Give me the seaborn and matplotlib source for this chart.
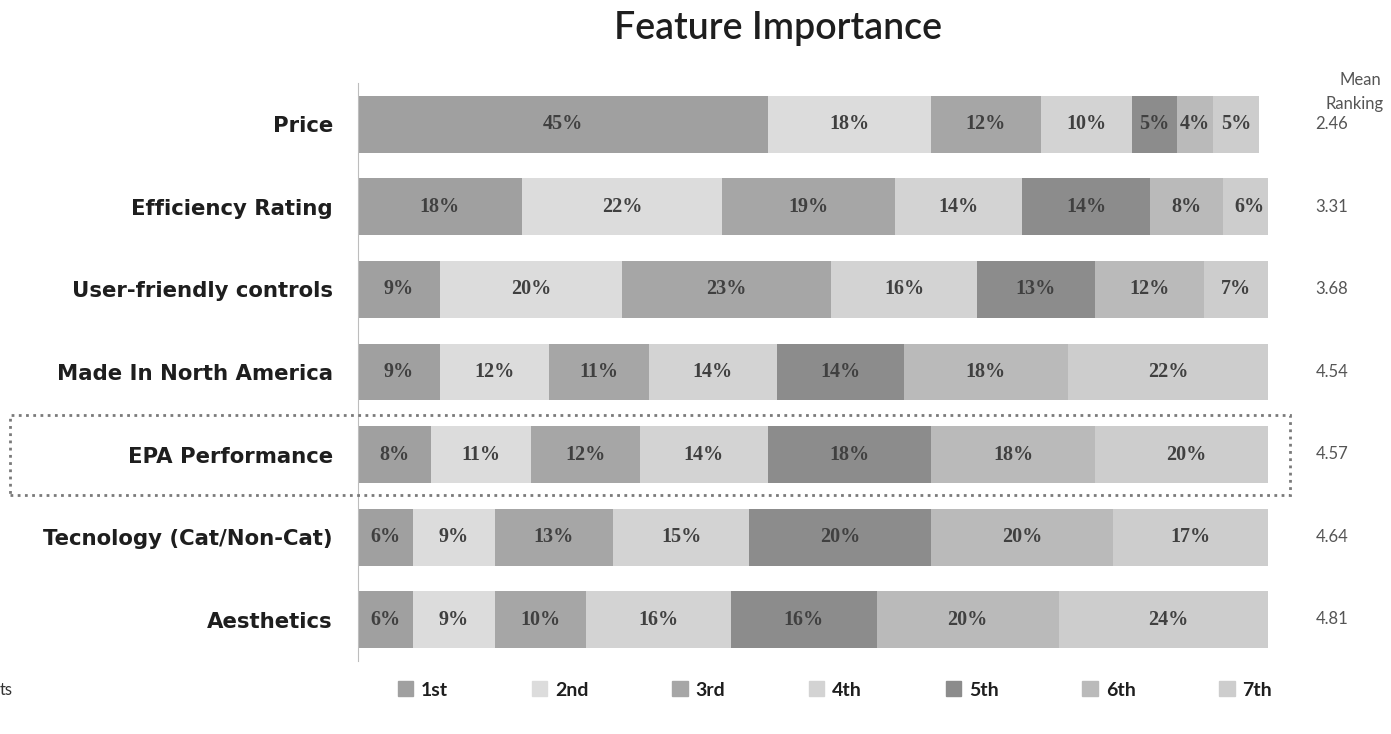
import numpy as np
import pandas as pd
import seaborn as sns
import matplotlib.pyplot as plt
from matplotlib.patches import Patch, Rectangle

features = ["Price", "Efficiency Rating", "User-friendly controls",
            "Made In North America", "EPA Performance",
            "Tecnology (Cat/Non-Cat)", "Aesthetics"]
ranks = ["1st", "2nd", "3rd", "4th", "5th", "6th", "7th"]

# share of respondents (%) placing each feature at each rank
rank_1st = [45, 18, 9, 9, 8, 6, 6]
rank_2nd = [18, 22, 20, 12, 11, 9, 9]
rank_3rd = [12, 19, 23, 11, 12, 13, 10]
rank_4th = [10, 14, 16, 14, 14, 15, 16]
rank_5th = [5, 14, 13, 14, 18, 20, 16]
rank_6th = [4, 8, 12, 18, 18, 20, 20]
rank_7th = [5, 6, 7, 22, 20, 17, 24]
mean_ranking = [2.46, 3.31, 3.68, 4.54, 4.57, 4.64, 4.81]

rank_colors = ["#a0a0a0", "#dcdcdc", "#a6a6a6", "#d3d3d3",
               "#8c8c8c", "#bababa", "#cdcdcd"]

shares = np.array([rank_1st, rank_2nd, rank_3rd, rank_4th,
                   rank_5th, rank_6th, rank_7th], dtype=float)
cum = np.cumsum(shares, axis=0)

sns.set_theme(style="white")
plt.rcParams["font.family"] = ["Lato", "DejaVu Sans"]

W, H = 1391, 734
fig = plt.figure(figsize=(W / 100, H / 100), dpi=100)
ax = fig.add_axes([358 / W, (H - 661) / H, 910 / W, 578 / H])

# stacked bars: draw cumulative totals from the outermost rank inwards
for k in range(len(ranks) - 1, -1, -1):
    df = pd.DataFrame({"feature": features, "cum": cum[k]})
    sns.barplot(data=df, x="cum", y="feature", order=features, orient="h",
                color=rank_colors[k], saturation=1, width=0.69,
                edgecolor=rank_colors[k], linewidth=0, ax=ax)

for k in range(len(ranks)):
    for i, f in enumerate(features):
        v = shares[k, i]
        ax.text(cum[k, i] - v / 2, i, f"{int(v)}%", ha="center", va="center",
                fontsize=14.5, fontweight="bold", color="#404040",
                family="Liberation Serif")

ax.set_xlim(0, 100)
ax.set_ylim(len(features) - 0.5, -0.5)
ax.set_xlabel("")
ax.set_ylabel("")
ax.set_xticks([])
for s in ["top", "right", "bottom"]:
    ax.spines[s].set_visible(False)
ax.spines["left"].set_color("#bdbdbd")
ax.spines["left"].set_linewidth(0.8)
ax.spines["left"].set_linestyle((0, (2, 1)))
ax.set_yticks(range(len(features)))
ax.set_yticklabels(features, fontsize=15.3, fontweight="bold", color="#1e1e1e",
                   family="DejaVu Sans")
ax.tick_params(axis="y", which="major", length=0, pad=18)
ax.set_yticks(np.arange(-0.5, len(features), 1.0), minor=True)
ax.tick_params(axis="y", which="minor", length=5, color="#bdbdbd", width=0.8)

fig.text(778 / W, 1 - 28 / H, "Feature Importance", ha="center", va="center",
         fontsize=27, fontweight="semibold", color="#1e1e1e")

fig.text(1360 / W, 1 - 80 / H, "Mean", ha="center", va="center",
         fontsize=12, color="#555555")
fig.text(1355 / W, 1 - 104 / H, "Ranking", ha="center", va="center",
         fontsize=12, color="#555555")
for i, m in enumerate(mean_ranking):
    y_pix = 124 + i * (578 / 7)
    fig.text(1332 / W, 1 - y_pix / H, f"{m:.2f}", ha="center", va="center",
             fontsize=12, color="#555555")

# dotted frame around the EPA Performance row
fig.patches.append(Rectangle((10 / W, 1 - 495 / H), 1280 / W, 80 / H,
                             transform=fig.transFigure, fill=False,
                             edgecolor="#7a7a7a", linestyle=(0, (1, 1.6)),
                             linewidth=2.0))

fig.text(0 / W, 1 - 690 / H, "ts", ha="left", va="center",
         fontsize=12, color="#333333")

handles = [Patch(facecolor=c, edgecolor=c) for c in rank_colors]
leg = fig.legend(handles, ranks, loc="center", ncol=7,
                 bbox_to_anchor=(835 / W, 1 - 690 / H), frameon=False,
                 handlelength=0.8, handleheight=0.8, handletextpad=0.4,
                 columnspacing=4.3, prop={"size": 14, "weight": "bold"})
for t in leg.get_texts():
    t.set_color("#1e1e1e")

fig.savefig("out.png", dpi=100)
